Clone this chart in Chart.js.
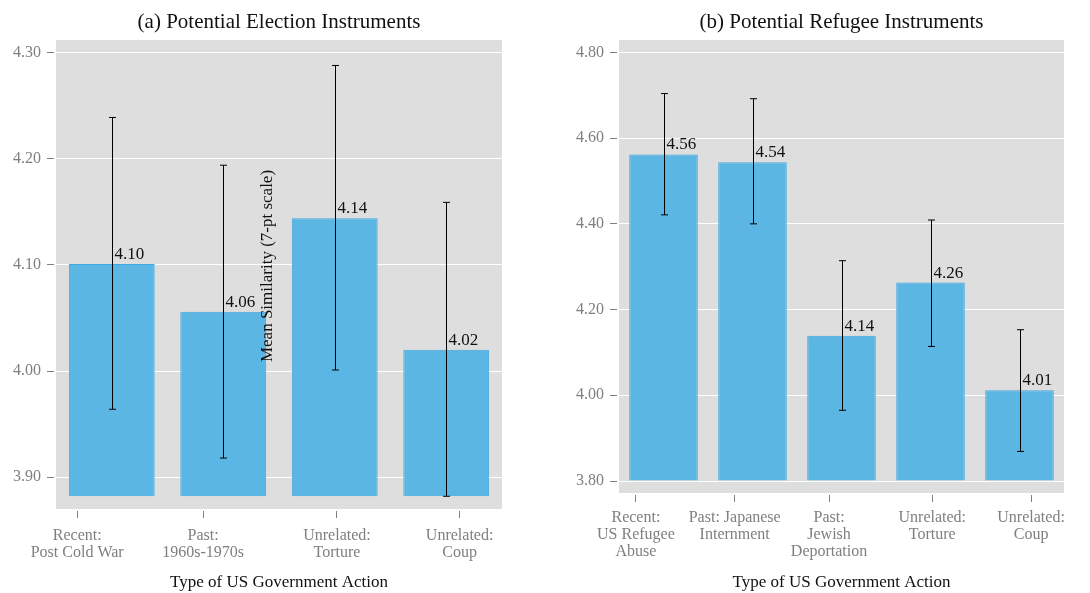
<!DOCTYPE html>
<html>
<head>
<meta charset="utf-8">
<script src="https://cdn.jsdelivr.net/npm/chart.js@4/dist/chart.umd.min.js"></script>
<style>
  html, body { margin: 0; padding: 0; background: #fff; }
  #wrap { position: relative; width: 1090px; height: 593px; }
  #wrap canvas { position: absolute; top: 0; }
</style>
</head>
<body>
<div id="wrap">
  <canvas id="left" width="545" height="593" style="left:0"></canvas>
  <canvas id="right" width="545" height="593" style="left:545px"></canvas>
</div>
<script>
// (a) election instruments
var catsA = [['Recent:', 'Post Cold War'], ['Past:', '1960s-1970s'], ['Unrelated:', 'Torture'], ['Unrelated:', 'Coup']]
var meansA = [4.101, 4.056, 4.144, 4.020]
var lowA = [3.964, 3.918, 4.001, 3.882]
var highA = [4.239, 4.194, 4.288, 4.159]
var tickPosA = [0.69, 1.82, 3.02, 4.12]
var yTicksA = [3.9, 4.0, 4.1, 4.2, 4.3]

// (b) refugee instruments
var catsB = [['Recent:', 'US Refugee', 'Abuse'], ['Past: Japanese', 'Internment'], ['Past:', 'Jewish', 'Deportation'], ['Unrelated:', 'Torture'], ['Unrelated:', 'Coup']]
var meansB = [4.562, 4.544, 4.139, 4.263, 4.012]
var lowB = [4.421, 4.400, 3.965, 4.114, 3.869]
var highB = [4.704, 4.692, 4.314, 4.409, 4.153]
var tickPosB = [0.69, 1.80, 2.86, 4.02, 5.13]
var yTicksB = [3.8, 4.0, 4.2, 4.4, 4.6, 4.8]

var SERIF = '"Liberation Serif", "DejaVu Serif", serif'
var GREY = '#7f7f7f'

function panel(canvasId, opts) {
  var pts = opts.means.map(function(m, i) { return {x: i + 1, y: m} })

  var extras = {
    id: 'extras_' + canvasId,
    beforeDraw: function(chart) {
      var a = chart.chartArea, ctx = chart.ctx
      ctx.save()
      ctx.fillStyle = '#dedede'
      ctx.fillRect(a.left, a.top, a.right - a.left, a.bottom - a.top)
      ctx.restore()
    },
    afterDatasetsDraw: function(chart) {
      var ctx = chart.ctx, xs = chart.scales.x, ys = chart.scales.y, a = chart.chartArea
      ctx.save()
      ctx.strokeStyle = '#000'
      ctx.lineWidth = 1
      opts.means.forEach(function(m, i) {
        var px = Math.round(xs.getPixelForValue(i + 1)) + 0.5
        var top = ys.getPixelForValue(opts.high[i])
        var bot = ys.getPixelForValue(opts.low[i])
        ctx.beginPath()
        ctx.moveTo(px, top); ctx.lineTo(px, bot)
        ctx.moveTo(px - 3.5, top); ctx.lineTo(px + 3.5, top)
        ctx.moveTo(px - 3.5, bot); ctx.lineTo(px + 3.5, bot)
        ctx.stroke()
        ctx.fillStyle = '#111'
        ctx.font = '17px ' + SERIF
        ctx.textAlign = 'left'
        ctx.textBaseline = 'alphabetic'
        ctx.fillText(m.toFixed(2), px + 2, ys.getPixelForValue(m) - 5)
      })
      // panel title
      ctx.fillStyle = '#111'
      ctx.font = '21px ' + SERIF
      ctx.textAlign = 'center'
      ctx.textBaseline = 'middle'
      ctx.fillText(opts.title, (a.left + a.right) / 2, 22)
      if (opts.yTitle) {
        ctx.translate(268, 266)
        ctx.rotate(-Math.PI / 2)
        ctx.font = '17px ' + SERIF
        ctx.fillText(opts.yTitle, 0, 0)
      }
      ctx.restore()
    }
  }

  return new Chart(document.getElementById(canvasId), {
    type: 'bar',
    data: {
      datasets: [{
        data: pts,
        base: opts.base,
        backgroundColor: '#5cb6e4',
        borderColor: '#3fa7df',
        borderWidth: 1,
        barPercentage: 0.77,
        categoryPercentage: 1
      }]
    },
    options: {
      responsive: false,
      animation: false,
      devicePixelRatio: 1,
      layout: { padding: { top: 40, right: opts.padRight, left: 0, bottom: 0 } },
      plugins: { legend: { display: false }, tooltip: { enabled: false }, title: { display: false } },
      scales: {
        x: {
          type: 'linear',
          min: 0.5,
          max: opts.means.length + 0.5,
          offset: false,
          border: { display: false },
          grid: { drawOnChartArea: false, offset: false, tickColor: GREY, tickLength: 9, tickBorderDash: [0, 2, 7, 100] },
          afterBuildTicks: function(s) { s.ticks = opts.tickPos.map(function(v) { return {value: v} }) },
          afterFit: function(s) { s.height = opts.xHeight },
          ticks: {
            autoSkip: false,
            maxRotation: 0,
            padding: opts.xPad,
            color: GREY,
            font: { family: SERIF, size: 16, lineHeight: 1.07 },
            callback: function(v, i) { return opts.cats[i] }
          },
          title: { display: true, text: 'Type of US Government Action', color: '#111', padding: 0, font: { family: SERIF, size: 17 } }
        },
        y: {
          min: opts.yMin,
          max: opts.yMax,
          border: { display: false },
          grid: { color: '#ffffff', lineWidth: 1, tickColor: GREY, tickLength: 9, tickBorderDash: [7, 100] },
          afterBuildTicks: function(s) { s.ticks = opts.yTicks.map(function(v) { return {value: v} }) },
          afterFit: function(s) { s.width = opts.yWidth },
          ticks: {
            padding: 6,
            color: GREY,
            font: { family: SERIF, size: 16 },
            callback: function(v) { return Number(v).toFixed(2) }
          }
        }
      }
    },
    plugins: [extras]
  })
}

panel('left', {
  title: '(a) Potential Election Instruments',
  yTitle: 'Mean Similarity (7-pt scale)',
  cats: catsA, means: meansA, low: lowA, high: highA,
  tickPos: tickPosA, yTicks: yTicksA,
  base: Math.min.apply(null, lowA),
  yMin: 3.870, yMax: 4.312,
  yWidth: 56, xHeight: 84, padRight: 43, xPad: 9
})

panel('right', {
  title: '(b) Potential Refugee Instruments',
  cats: catsB, means: meansB, low: lowB, high: highB,
  tickPos: tickPosB, yTicks: yTicksB,
  base: 3.80,
  yMin: 3.772, yMax: 4.829,
  yWidth: 74, xHeight: 100, padRight: 26, xPad: 7
})
</script>
</body>
</html>
